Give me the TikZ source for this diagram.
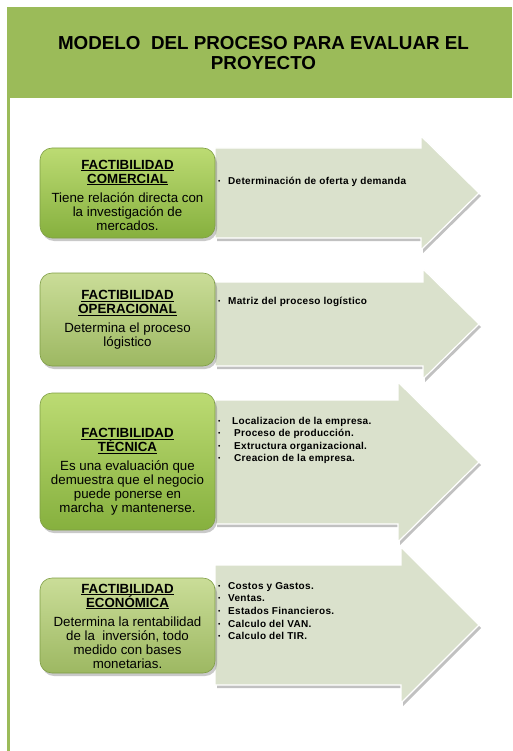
\documentclass[tikz,border=0pt]{standalone}
\usepackage{fontspec}
\setmainfont{Liberation Sans}
\newfontfamily\lsfont[LetterSpace=3]{Liberation Sans}
\usetikzlibrary{shadows}
\definecolor{hdrgreen}{HTML}{9BBB59}
\definecolor{arrowfill}{HTML}{DAE1CC}
\definecolor{boxedge}{HTML}{7F9E45}
\definecolor{vivtop}{HTML}{BCDB73}
\definecolor{vivbot}{HTML}{86B03E}
\definecolor{paltop}{HTML}{CADD98}
\definecolor{palbot}{HTML}{9DB862}
\newcommand{\bulitem}{\raisebox{1pt}{\scalebox{0.7}{\textbullet}}}
\begin{document}
\begin{tikzpicture}[x=1pt,y=-1pt,
  arrowshape/.style={fill=arrowfill, draw=white, line width=1.2pt,
    drop shadow={shadow xshift=2pt,shadow yshift=-3pt,opacity=.35,fill=black!70}},
  boxbase/.style={rounded corners=12pt, draw=boxedge, line width=.6pt,
    minimum width=175pt, inner sep=0pt,
    drop shadow={shadow xshift=2pt,shadow yshift=-3pt,opacity=.3,fill=black!70}},
  vivbox/.style={boxbase, top color=vivtop, bottom color=vivbot},
  palbox/.style={boxbase, top color=paltop, bottom color=palbot},
  boxtext/.style={align=center, font=\fontsize{13.3}{14}\selectfont, inner sep=0pt},
  bultext/.style={anchor=base west, font=\fontsize{10}{12}\selectfont\lsfont\bfseries, inner sep=0pt},
  bulmark/.style={anchor=base west, font=\fontsize{9.5}{12}\selectfont, inner sep=0pt},
  ]
\useasboundingbox (0,0) rectangle (512,751);
% header
\node[fill=hdrgreen, anchor=north west, minimum width=505pt, minimum height=91pt, inner sep=0pt] (header) at (7,7) {};
\node[align=center, font=\fontsize{18.8}{20}\selectfont\bfseries, inner sep=0pt] (title) at (263.5,53)
  {MODELO\ \ DEL PROCESO PARA EVALUAR EL\\ PROYECTO};
\fill[hdrgreen] (7,98) rectangle (10,751);

% arrows
\path[arrowshape] (215,148) -- (421,148) -- (421,136) -- (479,193) -- (421,250) -- (421,238) -- (215,238) -- cycle;
\path[arrowshape] (215,282) -- (423,282) -- (423,269) -- (479,324) -- (423,379) -- (423,366) -- (215,366) -- cycle;
\path[arrowshape] (215,400) -- (398,400) -- (398,382) -- (479,462) -- (398,542) -- (398,524) -- (215,524) -- cycle;
\path[arrowshape] (215,565) -- (401,565) -- (401,547) -- (479,625) -- (401,703) -- (401,685) -- (215,685) -- cycle;

% boxes
\node[vivbox, minimum height=90pt] (b1) at (127.5,193) {};
\node[palbox, minimum height=93pt] (b2) at (127.5,319.5) {};
\node[vivbox, minimum height=137pt] (b3) at (127.5,461.5) {};
\node[palbox, minimum height=95pt] (b4) at (127.5,625.5) {};

\node[boxtext] (t1) at (127.5,195) {\textbf{\underline{FACTIBILIDAD}}\\ \textbf{\underline{COMERCIAL}}\\[5pt] Tiene relación directa con\\ la investigación de\\ mercados.};
\node[boxtext] (t2) at (127.5,320) {\textbf{\underline{FACTIBILIDAD}}\\ \textbf{\underline{OPERACIONAL}}\\[5pt] Determina el proceso\\ lógistico};
\node[boxtext] (t3) at (127.5,472) {\textbf{\underline{FACTIBILIDAD}}\\ \textbf{\underline{TÉCNICA}}\\[5pt] Es una evaluación que\\ demuestra que el negocio\\ puede ponerse en\\ marcha\ \ y mantenerse.};
\node[boxtext] (t4) at (127.5,626) {\textbf{\underline{FACTIBILIDAD}}\\ \textbf{\underline{ECONÓMICA}}\\[5pt] Determina la rentabilidad\\ de la\ \ inversión, todo\\ medido con bases\\ monetarias.};

% bullet lists
\node[bulmark] (m1) at (218,185) {\bulitem};
\node[bultext] (l1) at (228,185) {Determinación de oferta y demanda};

\node[bulmark] (m2) at (218,304) {\bulitem};
\node[bultext] (l2) at (228,304) {Matriz del proceso logístico};

\node[bulmark] (m3a) at (218,424) {\bulitem};
\node[bultext] (l3a) at (232,424) {Localizacion de la empresa.};
\node[bulmark] (m3b) at (218,436.5) {\bulitem};
\node[bultext] (l3b) at (234,436.5) {Proceso de producción.};
\node[bulmark] (m3c) at (218,449) {\bulitem};
\node[bultext] (l3c) at (234,449) {Extructura organizacional.};
\node[bulmark] (m3d) at (218,461.5) {\bulitem};
\node[bultext] (l3d) at (234,461.5) {Creacion de la empresa.};

\node[bulmark] (m4a) at (218,589) {\bulitem};
\node[bultext] (l4a) at (228,589) {Costos y Gastos.};
\node[bulmark] (m4b) at (218,601.7) {\bulitem};
\node[bultext] (l4b) at (228,601.7) {Ventas.};
\node[bulmark] (m4c) at (218,614.4) {\bulitem};
\node[bultext] (l4c) at (228,614.4) {Estados Financieros.};
\node[bulmark] (m4d) at (218,627.1) {\bulitem};
\node[bultext] (l4d) at (228,627.1) {Calculo del VAN.};
\node[bulmark] (m4e) at (218,639.8) {\bulitem};
\node[bultext] (l4e) at (228,639.8) {Calculo del TIR.};
\end{tikzpicture}
\end{document}
